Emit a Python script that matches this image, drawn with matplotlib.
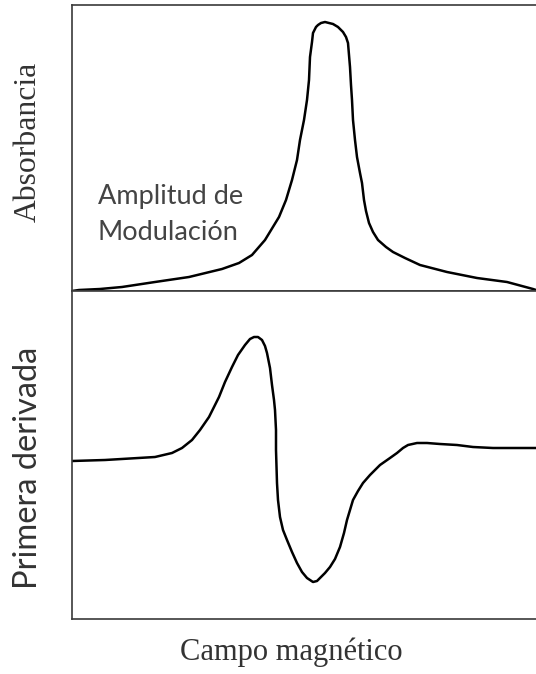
import matplotlib
matplotlib.use("Agg")
import matplotlib.pyplot as plt

# Absorption line (field position, absorbance), arbitrary units
abs_field = [0, 7, 28, 50, 83, 117, 150, 167, 180, 193, 207, 214, 220, 225, 228,
             232, 235, 237, 238, 240, 241, 244, 246, 249, 253, 257, 261, 266,
             271, 274, 276, 277, 278, 279, 280, 281, 283, 285, 288, 290, 292,
             294, 297, 301, 306, 314, 321, 333, 348, 375, 405, 435, 461, 464]
abs_signal = [0, 1, 2, 4, 9, 14, 22, 28, 36, 51, 74, 91, 111, 131, 151,
              171, 191, 211, 234, 249, 258, 264, 266, 268, 269, 268, 267, 264,
              259, 254, 248, 236, 224, 206, 191, 171, 151, 134, 118, 108, 91,
              80, 68, 59, 51, 44, 39, 33, 26, 19, 13, 9, 2, 1]

# First derivative (field position, signal), arbitrary units
der_field = [0, 33, 83, 100, 110, 120, 128, 137, 147, 153, 160, 166, 173, 178,
             182, 186, 190, 193, 195, 198, 200, 202, 203, 204, 204, 205, 206,
             208, 211, 215, 220, 225, 230, 235, 241, 245, 248, 253, 258, 263,
             268, 272, 275, 278, 281, 286, 291, 298, 308, 318, 325, 331, 336,
             345, 355, 368, 385, 401, 421, 464]
der_signal = [0, 1, 4, 8, 13, 21, 31, 44, 64, 79, 94, 106, 116, 122,
              124, 124, 121, 115, 108, 93, 76, 61, 51, 31, 11, -22, -39,
              -56, -69, -79, -91, -102, -111, -117, -121, -120, -117, -112, -106, -98,
              -86, -72, -59, -49, -39, -30, -22, -14, -4, 3, 8, 13, 16,
              18, 18, 17, 16, 14, 13, 13]

X_MAX = 464

fig = plt.figure(figsize=(5.36, 6.74), dpi=100)
ax_top = fig.add_axes([72 / 536, 383 / 674, 1 - 72 / 536, 286.5 / 674])
ax_bot = fig.add_axes([72 / 536, 55 / 674, 1 - 72 / 536, 328 / 674])

for ax in (ax_top, ax_bot):
    ax.set_xticks([])
    ax.set_yticks([])
    ax.set_xlim(0, X_MAX)
    ax.spines["right"].set_visible(False)
    for name in ("left", "top", "bottom"):
        ax.spines[name].set_color("#3a3a3a")
        ax.spines[name].set_linewidth(1.2)

ax_top.plot(abs_field, abs_signal, color="black", linewidth=1.8,
            solid_joinstyle="round", solid_capstyle="round")
ax_top.set_ylim(0, 286.5)

ax_bot.plot(der_field, der_signal, color="black", linewidth=1.8,
            solid_joinstyle="round", solid_capstyle="round")
ax_bot.set_ylim(-158, 170)

serif = ["Liberation Serif", "DejaVu Serif"]
sans = ["Lato", "DejaVu Sans"]

fig.text(28 / 536, 1 - 142 / 674, "Absorbancia", rotation=90, ha="center", va="center",
         family=serif, fontsize=22.8, color="#333333")
fig.text(28 / 536, 1 - 468 / 674, "Primera derivada", rotation=90, ha="center", va="center",
         family=sans, fontsize=23.5, color="#333333")
fig.text(291 / 536, 1 - 652 / 674, "Campo magnético", ha="center", va="center",
         family=serif, fontsize=22, color="#333333")
ax_top.text(98 / 536, 1 - 184 / 674, "Amplitud de\nModulación", transform=fig.transFigure,
            ha="left", va="top", family=sans, fontsize=19.5, color="#444444",
            linespacing=1.55)

fig.savefig("out.png", dpi=100, facecolor="white")
